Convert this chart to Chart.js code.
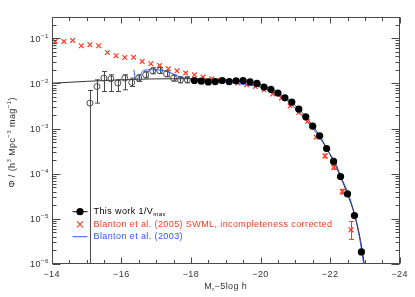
<!DOCTYPE html>
<html><head><meta charset="utf-8">
<script src="https://cdn.jsdelivr.net/npm/chart.js@4/dist/chart.umd.min.js"></script>
<style>html,body{margin:0;padding:0;background:#fff}#wrap{width:415px;height:297px}</style>
</head><body><div id="wrap"><canvas id="c" width="415" height="297"></canvas></div>
<script>
// ---- tick values ----
const xMajorTicks = [-14, -16, -18, -20, -22, -24];
const xMinorTicks = [-14.5,-15,-15.5,-16.5,-17,-17.5,-18.5,-19,-19.5,-20.5,-21,-21.5,-22.5,-23,-23.5];
const yDecadeExps = [-6, -5, -4, -3, -2, -1];

// ---- This work 1/Vmax, filled (bright) ----
const brightMag = [-18.1,-18.3,-18.5,-18.7,-18.9,-19.1,-19.3,-19.5,-19.7,-19.9,-20.1,-20.3,-20.5,-20.7,-20.9,-21.1,-21.3,-21.5,-21.7,-21.9,-22.1,-22.3,-22.5,-22.7,-22.9];
const brightPhi = [0.0116,0.0112,0.0108,0.0110,0.0116,0.0110,0.0114,0.0116,0.0108,0.0100,0.0083,0.0074,0.0061,0.0048,0.00385,0.00269,0.00182,0.00113,0.00069,0.00036,0.000187,0.0000863,0.0000357,0.0000118,0.00000185];

// ---- This work 1/Vmax, open (faint) with error bars ----
const faintMag = [-15.1,-15.3,-15.5,-15.7,-15.9,-16.1,-16.3,-16.5,-16.7,-16.9,-17.1,-17.3,-17.5,-17.7,-17.9];
const faintPhi = [0.00366,0.00853,0.0131,0.01265,0.01016,0.0131,0.01047,0.0131,0.0155,0.0190,0.0193,0.0163,0.0131,0.0120,0.0120];
const faintLo  = [1e-8,0.00366,0.00661,0.00661,0.00661,0.00721,0.00853,0.0110,0.0133,0.0163,0.0166,0.0140,0.0112,0.0103,0.0103];
const faintHi  = [0.00697,0.0120,0.01837,0.0155,0.0120,0.0155,0.0131,0.0155,0.0181,0.0222,0.0225,0.0190,0.0153,0.0140,0.0140];

// ---- fit line (This work) ----
const fitMag = [-14,-15,-16,-17,-18,-18.5,-19,-19.5,-19.9,-20.1,-20.3,-20.5,-20.7,-20.9,-21.1,-21.3,-21.5,-21.7,-21.9,-22.1,-22.3,-22.5,-22.7,-22.9,-22.98];
const fitPhi = [0.0101,0.0111,0.0120,0.0126,0.0127,0.0124,0.0120,0.0111,0.0100,0.0087,0.0075,0.0062,0.0049,0.0038,0.0027,0.00182,0.00115,0.00069,0.00037,0.000185,0.000085,0.000035,0.0000125,0.0000026,0.000001];

// ---- Blanton et al. (2005) SWML ----
const swmlMag = [-14.1,-14.35,-14.6,-14.85,-15.1,-15.35,-15.6,-15.85,-16.1,-16.35,-16.6,-16.85,-17.1,-17.35,-17.6,-17.85,-18.1,-18.35,-18.6,-18.85,-19.1,-19.35,-19.6,-19.85,-20.1,-20.35,-20.6,-20.85,-21.1,-21.35,-21.6,-21.85,-22.1,-22.35,-22.6];
const swmlPhi = [0.0849,0.0849,0.0894,0.0683,0.0718,0.0683,0.0484,0.0409,0.0375,0.0379,0.0306,0.0272,0.0250,0.0211,0.0190,0.0169,0.0155,0.0138,0.0126,0.0117,0.0108,0.0102,0.0093,0.0085,0.00721,0.0058,0.00472,0.00319,0.00226,0.00143,0.000644,0.000248,0.000139,0.000040,0.0000057];
const swmlErrMag = [-21.85,-22.1,-22.35,-22.6];
const swmlErrLo  = [0.000225,0.000125,0.0000355,0.0000035];
const swmlErrHi  = [0.000272,0.000153,0.0000450,0.0000087];

// ---- Blanton et al. (2003) ----
const b03Mag = [-16.36,-16.42,-16.54,-16.65,-16.91,-17.2,-17.49,-17.69,-17.97,-18.63,-19.04,-19.41,-19.99,-20.36,-20.7,-21.04,-21.42,-21.71,-21.95,-22.14,-22.33,-22.52,-22.72,-22.84,-22.97];
const b03Phi = [0.0200,0.0120,0.0155,0.0193,0.0200,0.0193,0.0163,0.0138,0.0128,0.0120,0.0108,0.0097,0.0083,0.0063,0.0045,0.0026,0.00121,0.000612,0.000309,0.000185,0.0000794,0.000037,0.0000112,0.00000403,0.00000095];

const RED = 'rgb(255,55,35)';
const BLUE = 'rgb(45,85,255)';
const GRAY = '#4a4a4a';
const FONT = "'Liberation Sans', Arial, sans-serif";
const SPACING = '0.4px';

const pts = (xs, ys) => xs.map((x, i) => ({x: x, y: ys[i]}));

function drawRich(ctx, parts, x, y, align, size) {
  ctx.letterSpacing = SPACING;
  let w = 0;
  parts.forEach(p => { ctx.font = (p.s ? size*0.68 : size) + 'px ' + FONT; w += ctx.measureText(p.t).width; });
  let cx = align === 'center' ? x - w/2 : (align === 'right' ? x - w : x);
  ctx.textAlign = 'left'; ctx.textBaseline = 'middle';
  parts.forEach(p => {
    ctx.font = (p.s ? size*0.68 : size) + 'px ' + FONT;
    const dy = p.s === 1 ? -size*0.38 : (p.s === -1 ? size*0.3 : 0);
    ctx.fillText(p.t, cx, y + dy);
    cx += ctx.measureText(p.t).width;
  });
}

const decor = {
  id: 'decor',
  beforeDatasetsDraw(chart) {
    const {ctx, chartArea: a, scales: {x, y}} = chart;
    ctx.save();
    ctx.beginPath(); ctx.rect(a.left, a.top, a.right - a.left, a.bottom - a.top); ctx.clip();
    ctx.lineWidth = 1;
    ctx.strokeStyle = GRAY;
    faintMag.forEach((m, i) => {
      const px = Math.round(x.getPixelForValue(m)) + 0.5;
      const lo = y.getPixelForValue(faintLo[i]), hi = y.getPixelForValue(faintHi[i]);
      ctx.beginPath(); ctx.moveTo(px, lo); ctx.lineTo(px, hi);
      ctx.moveTo(px - 2.5, hi); ctx.lineTo(px + 2.5, hi);
      if (faintLo[i] > 1e-6) { ctx.moveTo(px - 2.5, lo); ctx.lineTo(px + 2.5, lo); }
      ctx.stroke();
    });
    ctx.strokeStyle = RED;
    swmlErrMag.forEach((m, i) => {
      const px = Math.round(x.getPixelForValue(m)) + 0.5;
      const lo = y.getPixelForValue(swmlErrLo[i]), hi = y.getPixelForValue(swmlErrHi[i]);
      ctx.beginPath(); ctx.moveTo(px, lo); ctx.lineTo(px, hi);
      ctx.moveTo(px - 2.5, hi); ctx.lineTo(px + 2.5, hi);
      ctx.moveTo(px - 2.5, lo); ctx.lineTo(px + 2.5, lo);
      ctx.stroke();
    });
    ctx.restore();
  },
  afterDraw(chart) {
    const {ctx, chartArea: a, scales: {x, y}} = chart;
    ctx.save();
    ctx.strokeStyle = GRAY; ctx.lineWidth = 1;
    const L = Math.round(a.left) + 0.5, R = Math.round(a.right) - 0.5, T = Math.round(a.top) + 0.5, B = Math.round(a.bottom) - 0.5;
    ctx.strokeRect(L, T, R - L, B - T);
    ctx.beginPath();
    xMajorTicks.forEach(v => { const p = Math.round(x.getPixelForValue(v)) + 0.5; ctx.moveTo(p, B); ctx.lineTo(p, B - 6); ctx.moveTo(p, T); ctx.lineTo(p, T + 6); });
    xMinorTicks.forEach(v => { const p = Math.round(x.getPixelForValue(v)) + 0.5; ctx.moveTo(p, B); ctx.lineTo(p, B - 3.5); ctx.moveTo(p, T); ctx.lineTo(p, T + 3.5); });
    yDecadeExps.forEach(e => {
      const p = Math.round(y.getPixelForValue(Math.pow(10, e))) + 0.5;
      ctx.moveTo(L, p); ctx.lineTo(L + 8, p); ctx.moveTo(R, p); ctx.lineTo(R - 8, p);
      for (let k = 2; k <= 9; k++) {
        const v = k * Math.pow(10, e);
        if (v > y.max) continue;
        const q = Math.round(y.getPixelForValue(v)) + 0.5;
        ctx.moveTo(L, q); ctx.lineTo(L + 4, q); ctx.moveTo(R, q); ctx.lineTo(R - 4, q);
      }
    });
    ctx.stroke();
    // tick labels
    ctx.fillStyle = '#333';
    xMajorTicks.forEach(v => {
      const p = x.getPixelForValue(v);
      drawRich(ctx, [{t: '\u2212' + Math.abs(v)}], p, a.bottom + 11, 'center', 9);
    });
    yDecadeExps.forEach(e => {
      const p = y.getPixelForValue(Math.pow(10, e));
      drawRich(ctx, [{t: '10'}, {t: '\u2212' + Math.abs(e), s: 1}], a.left - 3, p + 1, 'right', 9);
    });
    // axis titles
    drawRich(ctx, [{t: 'M'}, {t: 'r', s: -1}, {t: '\u22125log h'}], (a.left + a.right) / 2, 287, 'center', 9);
    ctx.save();
    ctx.translate(13, (a.top + a.bottom) / 2 + 2);
    ctx.rotate(-Math.PI / 2);
    drawRich(ctx, [{t: '\u03A6 / (h'}, {t: '3', s: 1}, {t: ' Mpc'}, {t: '\u22123', s: 1}, {t: ' mag'}, {t: '\u22121', s: 1}, {t: ')'}], 0, 0, 'center', 9);
    ctx.restore();
    // legend
    const lx0 = 72.5, lx1 = 87.5, lm = 80, tx = 93.5;
    const rows = [211.7, 224.3, 236.7];
    ctx.strokeStyle = '#000'; ctx.lineWidth = 1;
    ctx.beginPath(); ctx.moveTo(lx0, rows[0]); ctx.lineTo(lx1, rows[0]); ctx.stroke();
    ctx.fillStyle = '#000'; ctx.beginPath(); ctx.arc(lm, rows[0], 3.6, 0, Math.PI * 2); ctx.fill();
    ctx.strokeStyle = RED; ctx.lineWidth = 1.1;
    ctx.beginPath(); ctx.moveTo(lm - 3, rows[1] - 3); ctx.lineTo(lm + 3, rows[1] + 3); ctx.moveTo(lm - 3, rows[1] + 3); ctx.lineTo(lm + 3, rows[1] - 3); ctx.stroke();
    ctx.strokeStyle = BLUE; ctx.lineWidth = 1;
    ctx.beginPath(); ctx.moveTo(lx0, rows[2]); ctx.lineTo(lx1, rows[2]); ctx.stroke();
    ctx.fillStyle = '#000';
    drawRich(ctx, [{t: 'This work 1/V'}, {t: 'max', s: -1}], tx, rows[0], 'left', 9);
    ctx.fillStyle = RED;
    drawRich(ctx, [{t: 'Blanton et al. (2005) SWML, incompleteness corrected'}], tx, rows[1], 'left', 9);
    ctx.fillStyle = BLUE;
    drawRich(ctx, [{t: 'Blanton et al. (2003)'}], tx, rows[2], 'left', 9);
    ctx.restore();
  }
};

new Chart(document.getElementById('c'), {
  type: 'scatter',
  data: {
    datasets: [
      {label: 'bright', data: pts(brightMag, brightPhi), pointRadius: 3.6, pointBackgroundColor: '#000', pointBorderColor: '#000', pointBorderWidth: 0, showLine: false},
      {label: 'faint', data: pts(faintMag, faintPhi), pointRadius: 3, pointBackgroundColor: 'rgba(255,255,255,0)', pointBorderColor: GRAY, pointBorderWidth: 1, showLine: false},
      {label: 'swml', data: pts(swmlMag, swmlPhi), pointStyle: 'crossRot', pointRadius: 3.3, pointBorderColor: RED, pointBorderWidth: 1.2, showLine: false},
      {label: 'fit', data: pts(fitMag, fitPhi), showLine: true, borderColor: '#333', borderWidth: 1, pointRadius: 0, cubicInterpolationMode: 'monotone'},
      {label: 'b03', data: pts(b03Mag, b03Phi), showLine: true, borderColor: BLUE, borderWidth: 1, pointRadius: 0, tension: 0.3}
    ]
  },
  options: {
    responsive: false, animation: false, devicePixelRatio: 1,
    layout: {padding: {left: 51.7, top: 16.7, right: 15.3, bottom: 33}},
    plugins: {legend: {display: false}, tooltip: {enabled: false}},
    scales: {
      x: {type: 'linear', min: -24, max: -14, reverse: true, display: false},
      y: {type: 'logarithmic', min: 1e-6, max: 0.3, display: false}
    }
  },
  plugins: [decor]
});
</script></body></html>
